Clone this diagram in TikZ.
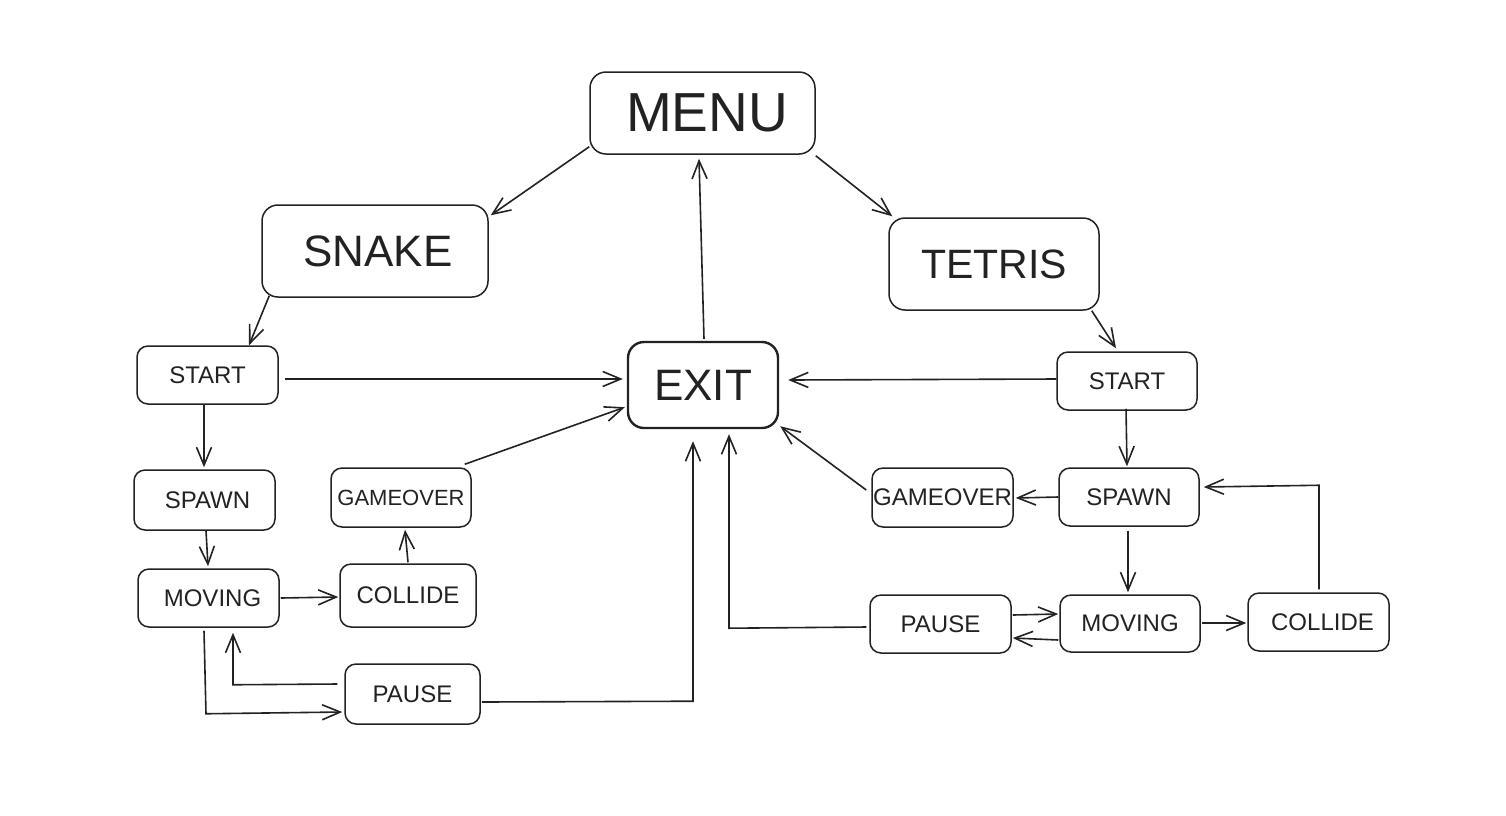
\documentclass[tikz,border=0pt]{standalone}
\usepackage{fontspec}
\setmainfont{Liberation Sans}
\usetikzlibrary{arrows.meta,calc}
\definecolor{ink}{HTML}{222222}
\tikzset{
  box/.style={draw=ink, line width=1.5pt, rounded corners=11pt, inner sep=0pt, text=ink, font=\fontsize{24}{28}\selectfont},
  bigbox/.style={box, rounded corners=16pt},
  arr/.style={draw=ink, line width=1.6pt, -{Straight Barb[length=18pt,width=15pt]}},
}
\begin{document}
\begin{tikzpicture}[x=1pt,y=-1pt]
\useasboundingbox[fill=white] (0,0) rectangle (1506,815);
% big boxes
\node[bigbox, minimum width=225pt, minimum height=82pt, font=\fontsize{55}{60}\selectfont] (menu) at (702.5,113) {\hspace{9pt}MENU};
\node[bigbox, minimum width=226pt, minimum height=92pt, font=\fontsize{44}{50}\selectfont] (snake) at (375,251) {\hspace{6pt}SNAKE};
\node[bigbox, minimum width=210pt, minimum height=92pt, font=\fontsize{41}{46}\selectfont] (tetris) at (994,264) {TETRIS};
\node[bigbox, line width=2.4pt, minimum width=150pt, minimum height=86pt, font=\fontsize{44}{50}\selectfont] (exit) at (703,385) {EXIT};
% snake side
\node[box, minimum width=141pt, minimum height=58pt] (ss) at (207.5,375) {START};
\node[box, minimum width=141pt, minimum height=60pt] (sps) at (204.5,500) {\hspace{6pt}SPAWN};
\node[box, minimum width=141pt, minimum height=58pt] (ms) at (208.5,598) {\hspace{8pt}MOVING};
\node[box, minimum width=136pt, minimum height=63pt] (cs) at (408,595.5) {COLLIDE\hspace{10pt}};
\node[box, minimum width=140pt, minimum height=59pt, font=\fontsize{22}{26}\selectfont] (gs) at (401,497.5) {GAMEOVER};
\node[box, minimum width=135pt, minimum height=60pt] (ps) at (412.5,694) {PAUSE\hspace{8pt}};
% tetris side
\node[box, minimum width=140pt, minimum height=58pt] (st) at (1127,381) {START};
\node[box, minimum width=140pt, minimum height=58pt] (spt) at (1129,497) {SPAWN};
\node[box, minimum width=141pt, minimum height=59pt, font=\fontsize{24}{28}\selectfont] (gt) at (942.5,497.5) {GAMEOVER};
\node[box, minimum width=141pt, minimum height=58pt] (pt) at (940.5,624) {PAUSE};
\node[box, minimum width=140pt, minimum height=57pt] (mt) at (1130,623.5) {MOVING};
\node[box, minimum width=141pt, minimum height=58pt] (ct) at (1318.5,622) {\hspace{8pt}COLLIDE};
% connectors
\draw[arr] ($(menu.south west)+(0,-8)$) -- ($(snake.north east)+(2,11)$);
\draw[arr] ($(menu.south east)+(0,1)$) -- ($(tetris.north west)+(4,-1)$);
\draw[arr] ($(exit.north)+(1,-2)$) -- ($(menu.south)+(-3.5,4)$);
\draw[arr] ($(snake.south west)+(8,-2)$) -- ($(ss.north)+(41.5,0)$);
\draw[arr] ($(tetris.south east)+(-8,0)$) -- ($(st.north)+(-11,-3)$);
\draw[arr] ($(ss.east)+(6,4)$) -- ($(exit.west)+(-4,-6)$);
\draw[arr] ($(st.west)+(0,-2)$) -- ($(exit.east)+(9,-5)$);
\draw[arr] ($(ss.south)+(-3.5,0)$) -- ($(sps.north)+(-0.5,-2)$);
\draw[arr] ($(sps.south)+(1.5,0)$) -- ($(ms.north)+(-0.5,-2)$);
\draw[arr] ($(ms.east)+(1,0)$) -- ($(cs.west)+(-1,1.5)$);
\draw[arr] ($(cs.north)+(0,-1)$) -- ($(gs.south)+(4,2)$);
\draw[arr] ($(gs.north east)+(-7,-3)$) -- ($(exit.south west)+(-2,-22)$);
\draw[arr] ($(ms.south)+(-4.5,3)$) -- ($(ms.south)+(-2.5,86)$) -- ($(ps.west)+(-2,18)$);
\draw[arr] ($(ps.west)+(-7,-10)$) -- ($(ms.south)+(24.5,57)$) -- ($(ms.south)+(24.5,5)$);
\draw[arr] ($(ps.east)+(1,8)$) -- ($(exit.south)+(-10,272)$) -- ($(exit.south)+(-10,12)$);
\draw[arr] ($(st.south)+(-1,-2)$) -- ($(spt.north)+(-2,-1)$);
\draw[arr] (spt.west) -- ($(gt.east)+(2,0.5)$);
\draw[arr] ($(gt.west)+(-5,-7.5)$) -- ($(exit.south east)+(1,-3)$);
\draw[arr] ($(spt.south)+(-1,4)$) -- ($(mt.north)+(-2,-2)$);
\draw[arr] ($(mt.east)+(1,-0.5)$) -- ($(ct.west)+(-1,1)$);
\draw[arr] ($(ct.north)+(0.5,-3)$) -- ($(ct.north)+(0.5,-107)$) -- ($(spt.east)+(4,-10)$);
\draw[arr] ($(pt.east)+(1,-9)$) -- ($(mt.west)+(-1,-9.5)$);
\draw[arr] ($(mt.west)+(-1,16.5)$) -- ($(pt.east)+(1,14)$);
\draw[arr] ($(pt.west)+(-3,3)$) -- ($(exit.south)+(26,199)$) -- ($(exit.south)+(26,5)$);
\end{tikzpicture}
\end{document}
